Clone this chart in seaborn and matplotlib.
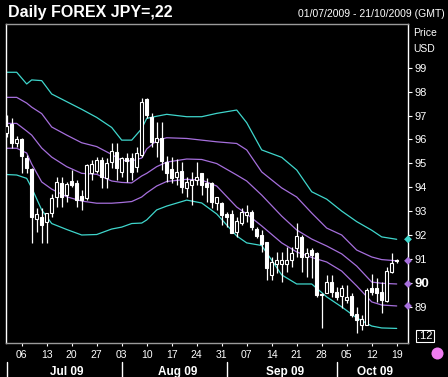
import numpy as np
import pandas as pd
import matplotlib
matplotlib.use("Agg")
import matplotlib.pyplot as plt
import seaborn as sns

# daily JPY candles, business days from 01/07/2009
opens = [96.28, 96.64, 95.86, 96.00, 95.21, 94.75, 92.66, 92.74, 92.56, 92.91,
         93.60, 94.19, 93.67, 94.27, 94.19, 93.63, 93.54, 94.58, 94.68, 95.14,
         94.37, 95.04, 95.49, 94.62, 95.23, 95.23, 94.86, 95.35, 97.69, 96.95,
         95.90, 96.04, 95.05, 94.75, 94.44, 94.69, 93.95, 94.09, 94.30, 94.58,
         94.16, 94.16, 93.35, 93.33, 92.88, 92.88, 92.14, 92.49, 92.84, 92.98,
         92.24, 92.00, 91.72, 90.33, 90.79, 90.80, 90.80, 90.95, 91.45, 91.93,
         91.09, 91.37, 91.23, 89.52, 89.56, 90.04, 89.63, 89.44, 89.28, 89.44,
         88.70, 88.23, 88.23, 89.77, 89.77, 89.63, 89.25, 90.47, 90.95]
highs = [97.02, 96.88, 96.14, 96.05, 95.35, 94.79, 93.12, 93.12, 92.92, 93.72,
         94.41, 94.41, 94.23, 94.72, 94.30, 93.88, 94.96, 95.14, 95.28, 95.28,
         95.21, 95.84, 95.84, 95.28, 95.42, 95.42, 95.70, 97.74, 97.74, 97.09,
         96.74, 96.74, 95.30, 95.28, 95.20, 95.07, 94.44, 94.65, 95.07, 94.58,
         94.37, 94.23, 93.60, 93.39, 92.98, 93.05, 92.77, 93.12, 93.26, 93.05,
         92.35, 92.21, 91.72, 91.09, 91.30, 91.30, 91.50, 91.50, 92.49, 92.00,
         91.44, 91.44, 91.30, 89.56, 90.33, 90.33, 89.84, 89.91, 89.91, 89.56,
         89.00, 88.65, 89.77, 90.37, 90.19, 90.05, 90.67, 91.23, 91.00]
lows = [96.11, 95.65, 95.69, 94.58, 94.58, 91.68, 92.14, 91.65, 91.65, 92.77,
        93.18, 93.18, 93.39, 94.02, 93.18, 93.05, 93.46, 94.30, 94.58, 93.95,
        93.95, 94.79, 94.30, 94.44, 94.23, 94.30, 94.65, 95.28, 96.88, 95.70,
        95.28, 94.70, 94.20, 94.16, 94.10, 93.74, 93.60, 93.26, 94.09, 93.67,
        93.39, 93.12, 93.05, 92.42, 92.35, 92.07, 91.93, 92.42, 92.56, 92.20,
        91.86, 91.30, 90.12, 90.12, 90.40, 90.05, 90.46, 90.67, 91.09, 90.46,
        90.26, 90.19, 89.42, 88.10, 89.56, 89.42, 89.28, 88.93, 89.14, 88.58,
        87.89, 88.02, 88.23, 89.49, 89.21, 88.72, 89.21, 90.40, 90.84]
closes = [96.56, 95.86, 96.00, 95.30, 94.79, 92.74, 92.88, 92.42, 92.90, 93.54,
          94.23, 93.58, 94.13, 94.09, 93.46, 93.46, 94.93, 94.96, 95.14, 94.44,
          95.00, 95.51, 94.82, 95.23, 95.10, 94.62, 95.42, 97.58, 97.02, 95.88,
          96.07, 95.08, 94.60, 94.37, 94.65, 94.00, 94.23, 94.30, 94.44, 94.09,
          94.02, 93.39, 93.58, 92.84, 92.74, 92.07, 92.58, 92.98, 92.95, 92.35,
          91.96, 91.62, 90.60, 90.88, 90.95, 90.95, 90.95, 91.26, 91.96, 91.09,
          91.26, 91.16, 89.49, 89.48, 90.04, 89.63, 89.42, 89.77, 89.42, 88.65,
          88.44, 88.48, 89.70, 89.63, 89.58, 89.28, 90.51, 90.81, 90.90]

# band lines, read at these day positions
band_idx = [0, 2, 4, 5, 7, 9, 12, 15, 18, 21, 23, 25, 27, 28, 30, 32,
            36, 39, 42, 46, 48, 51, 55, 58, 61, 64, 67, 70, 73, 75, 78]
top_cyan = [98.81, 98.81, 98.32, 98.49, 98.46, 97.90, 97.58, 97.26, 96.92, 96.50,
            95.97, 95.97, 96.45, 96.88, 96.97, 97.05, 96.95, 96.95, 97.09, 97.23,
            96.70, 95.56, 95.25, 94.72, 93.81, 93.50, 93.00, 92.56, 92.20, 91.92, 91.82]
upper_purple = [97.76, 97.76, 97.52, 97.35, 97.08, 96.52, 96.18, 95.86, 95.70, 95.37,
                95.12, 95.10, 95.22, 95.60, 95.95, 96.07, 96.04, 95.97, 95.90, 95.83,
                95.56, 94.64, 93.97, 93.59, 92.92, 92.29, 92.00, 91.37, 91.08, 90.97, 90.92]
mid_purple = [96.67, 96.67, 96.35, 96.18, 95.64, 95.26, 94.86, 94.58, 94.54, 94.26,
              94.20, 94.18, 94.47, 94.58, 94.86, 95.05, 95.18, 95.16, 94.99, 94.51,
              94.26, 93.67, 92.79, 92.21, 91.83, 91.54, 91.21, 90.70, 90.03, 89.98, 89.95]
lower_purple = [95.63, 95.63, 95.43, 94.97, 94.22, 93.92, 93.60, 93.42, 93.33, 93.33,
                93.36, 93.40, 93.59, 93.76, 94.05, 94.24, 94.33, 94.30, 94.05, 93.17,
                92.88, 92.38, 91.67, 91.29, 91.06, 90.87, 90.49, 89.87, 89.20, 89.07, 89.03]
bottom_cyan = [94.53, 94.51, 94.37, 93.97, 93.05, 92.48, 92.23, 92.00, 92.02, 92.25,
               92.33, 92.48, 92.50, 92.63, 93.05, 93.21, 93.46, 93.34, 92.88, 91.96,
               91.67, 91.56, 90.33, 89.95, 89.95, 89.41, 88.99, 88.53, 88.19, 88.11, 88.09]

y_ticks = [89, 90, 91, 92, 93, 94, 95, 96, 97, 98, 99]
month_labels = ["Jul 09", "Aug 09", "Sep 09", "Oct 09"]

CYAN = "#3fd6cc"
PURPLE = "#a66fdc"

sns.set_theme(style="dark", rc={"axes.facecolor": "black", "figure.facecolor": "black",
                                "axes.grid": False})
plt.rcParams["font.family"] = ["Liberation Sans", "DejaVu Sans"]

dates = pd.bdate_range("2009-07-01", periods=len(opens))
x = np.arange(len(opens))
o = np.array(opens); c = np.array(closes)
h = np.array(highs); l = np.array(lows)

fig = plt.figure(figsize=(4.48, 3.77), dpi=100)
x_max = 80.26
ax = fig.add_axes([5.7 / 448, 1 - 343 / 377, (408 - 5.7) / 448, (343 - 24) / 377])

# bands
for vals, col in [(top_cyan, CYAN), (upper_purple, PURPLE), (mid_purple, PURPLE),
                  (lower_purple, PURPLE), (bottom_cyan, CYAN)]:
    sns.lineplot(x=band_idx, y=vals, color=col, lw=0.9, ax=ax, zorder=1)

# candles
up = c >= o
bottom = np.minimum(o, c)
height = np.maximum(np.abs(c - o), 0.04)
ax.vlines(x, l, h, color="white", lw=0.9, zorder=2)
ax.bar(x[up], height[up], bottom=bottom[up], width=0.66, facecolor="black",
       edgecolor="white", lw=0.8, zorder=3)
ax.bar(x[~up], height[~up], bottom=bottom[~up], width=0.66, facecolor="white",
       edgecolor="white", lw=0.8, zorder=3)

ax.set_xlim(-0.2, x_max)
ax.set_ylim(87.48, 100.83)

# right price axis
ax.yaxis.tick_right()
ax.set_yticks(y_ticks)
ax.set_yticklabels([str(t) for t in y_ticks])
ax.tick_params(axis="y", colors="white", length=3, width=0.8, pad=1.5, labelsize=8, right=True)
for lab in ax.get_yticklabels():
    if lab.get_text() == "90":
        lab.set_fontweight("bold")
        lab.set_fontsize(9.5)
ax.set_ylabel("")

# end markers on the price axis
ends = [top_cyan[-1], upper_purple[-1], mid_purple[-1], lower_purple[-1]]
ax.scatter([x_max] * 4, ends, marker="D", s=16, c=[CYAN, PURPLE, PURPLE, PURPLE],
           clip_on=False, zorder=6, linewidths=0)
ax.text(1.022, 87.77, ".12", transform=ax.get_yaxis_transform(), color="white",
        fontsize=8, va="center", ha="left",
        bbox=dict(facecolor="black", edgecolor="white", pad=1.0, lw=0.8))

# weekly ticks (Mondays)
mondays = [i for i, d in enumerate(dates) if d.weekday() == 0]
ax.set_xticks(mondays)
ax.set_xticklabels([dates[i].strftime("%d") for i in mondays])
ax.tick_params(axis="x", colors="white", length=2, width=0.8, pad=3, labelsize=7.5, bottom=True)

# month row
starts = [i for i in range(len(dates)) if i == 0 or dates[i].month != dates[i - 1].month]
bounds = starts + [x_max]
xt = ax.get_xaxis_transform()
for i, name in enumerate(month_labels):
    ax.plot([bounds[i], bounds[i]], [-0.06, -0.11], color="white", lw=1,
            transform=xt, clip_on=False)
    ax.text((bounds[i] + bounds[i + 1]) / 2 + 0.6, -0.09, name, transform=xt,
            color="white", fontsize=8.5, fontweight="bold", ha="center", va="center")

for side in ["left", "right"]:
    ax.spines[side].set_color("white")
    ax.spines[side].set_linewidth(1)
for side in ["top", "bottom"]:
    ax.spines[side].set_color("#9a9a9a")
    ax.spines[side].set_linewidth(1)

fig.text(8 / 448, 1 - 13 / 377, "Daily FOREX JPY=,22", color="white", fontsize=11.5,
         fontweight="bold", ha="left", va="center")
fig.text(445 / 448, 1 - 14 / 377, "01/07/2009 - 21/10/2009 (GMT)", color="white",
         fontsize=7.5, ha="right", va="center")
fig.text(413 / 448, 1 - 33 / 377, "Price", color="white", fontsize=7.5, ha="left", va="center")
fig.text(413 / 448, 1 - 49 / 377, "USD", color="white", fontsize=7.5, ha="left", va="center")

ax.scatter([437 / 448], [1 - 353 / 377], transform=fig.transFigure, s=75,
           color="#f07cf0", clip_on=False, linewidths=0)

fig.savefig("out.png", dpi=100, facecolor="black")
